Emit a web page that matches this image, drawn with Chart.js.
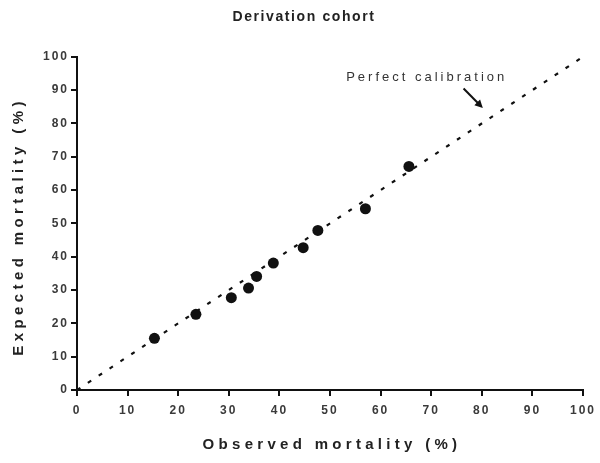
<!DOCTYPE html>
<html>
<head>
<meta charset="utf-8">
<script src="https://cdn.jsdelivr.net/npm/chart.js@4"></script>
<style>
  html, body { margin: 0; padding: 0; background: #fff; }
  #wrap { width: 600px; height: 463px; }
</style>
</head>
<body>
<div id="wrap"><canvas id="calibrationChart" width="600" height="463"></canvas></div>
<script>
const chartTitle = 'Derivation cohort';
const xTitle = 'Observed mortality (%)';
const yTitle = 'Expected mortality (%)';
const noteText = 'Perfect calibration';

// risk groups: observed vs expected mortality (%)
const observed = [15.3, 23.5, 30.5, 33.9, 35.5, 38.8, 44.7, 47.6, 57.0, 65.6];
const expected = [15.5, 22.7, 27.7, 30.6, 34.1, 38.1, 42.7, 47.9, 54.4, 67.1];
// line of perfect calibration
const identityX = [0, 100];
const identityY = [0, 100];
const tickValues = [0, 10, 20, 30, 40, 50, 60, 70, 80, 90, 100];

const FONT = '"Liberation Sans", Arial, sans-serif';

// canvas has letterSpacing, Chart.js doesn't expose it, so wrap the text draws
function spaced(fn, spacing, dx, dy) {
    return function() {
        const ctx = this.ctx;
        ctx.save();
        ctx.letterSpacing = spacing;
        ctx.translate(dx, dy);
        fn.apply(this, arguments);
        ctx.restore();
    };
}

const letterSpacing = {
    id: 'letterSpacing',
    beforeDraw(chart) {
        if (!chart._spaced) {
            chart.scales.x.drawTitle = spaced(chart.scales.x.drawTitle, '4.3px', 2, 0);
            chart.scales.y.drawTitle = spaced(chart.scales.y.drawTitle, '4.4px', 0, 3);
            chart.titleBlock.draw = spaced(chart.titleBlock.draw, '1.6px', 12, 0);
            chart._spaced = true;
        }
        chart.ctx.letterSpacing = '2px'; // tick labels
    },
    afterDraw(chart) {
        chart.ctx.letterSpacing = '0px';
    }
};

const annotation = {
    id: 'annotation',
    afterDatasetsDraw(chart) {
        const {ctx, scales: {x, y}} = chart;
        ctx.save();
        ctx.font = '13px ' + FONT;
        ctx.letterSpacing = '3px';
        ctx.fillStyle = '#333';
        ctx.textAlign = 'left';
        ctx.textBaseline = 'middle';
        ctx.fillText(noteText, x.getPixelForValue(53.2), y.getPixelForValue(93.8));

        // arrow pointing at the dashed line
        const x0 = x.getPixelForValue(76.4), y0 = y.getPixelForValue(90.5);
        const x1 = x.getPixelForValue(80.2), y1 = y.getPixelForValue(84.6);
        const ang = Math.atan2(y1 - y0, x1 - x0);
        ctx.strokeStyle = '#111';
        ctx.fillStyle = '#111';
        ctx.lineWidth = 2;
        ctx.beginPath();
        ctx.moveTo(x0, y0);
        ctx.lineTo(x1 - 6 * Math.cos(ang), y1 - 6 * Math.sin(ang));
        ctx.stroke();
        ctx.beginPath();
        ctx.moveTo(x1, y1);
        ctx.lineTo(x1 - 8 * Math.cos(ang) + 4 * Math.sin(ang), y1 - 8 * Math.sin(ang) - 4 * Math.cos(ang));
        ctx.lineTo(x1 - 8 * Math.cos(ang) - 4 * Math.sin(ang), y1 - 8 * Math.sin(ang) + 4 * Math.cos(ang));
        ctx.closePath();
        ctx.fill();
        ctx.restore();
    }
};

function axis(titleText, titlePadding, labelPadding) {
    return {
        type: 'linear',
        min: 0,
        max: 100,
        afterBuildTicks: scale => {
            scale.ticks = tickValues.map(v => ({value: v}));
        },
        ticks: {
            color: '#3a3a3a',
            padding: labelPadding,
            font: {family: FONT, size: 12, weight: 'bold'}
        },
        grid: {
            drawOnChartArea: false,
            color: '#111',
            lineWidth: 2,
            tickLength: 6
        },
        border: {color: '#111', width: 2},
        title: {
            display: true,
            text: titleText,
            color: '#222',
            padding: titlePadding,
            font: {family: FONT, size: 15, weight: 'bold'}
        }
    };
}

const ctx = document.getElementById('calibrationChart').getContext('2d');
const calibrationChart = new Chart(ctx, {
    type: 'scatter',
    data: {
        datasets: [
            {
                label: 'Risk groups',
                data: observed.map((v, i) => ({x: v, y: expected[i]})),
                backgroundColor: '#111',
                borderWidth: 0,
                pointRadius: 5.5,
                order: 1
            },
            {
                type: 'line',
                label: 'Perfect calibration',
                data: identityX.map((v, i) => ({x: v, y: identityY[i]})),
                borderColor: '#111',
                borderWidth: 2.2,
                borderDash: [4, 9],
                pointRadius: 0,
                fill: false,
                order: 2
            }
        ]
    },
    options: {
        responsive: false,
        animation: false,
        devicePixelRatio: 1,
        layout: {padding: {left: 0, right: 16, top: 0, bottom: 0}},
        plugins: {
            legend: {display: false},
            tooltip: {enabled: false},
            title: {
                display: true,
                text: chartTitle,
                color: '#222',
                padding: {top: 9, bottom: 31},
                font: {family: FONT, size: 14, weight: 'bold'}
            }
        },
        scales: {
            x: Object.assign(axis(xTitle, {top: 0, bottom: 9}, 7), {
                afterFit: scale => { scale.height = 73; }
            }),
            y: Object.assign(axis(yTitle, {top: 10, bottom: 0}, 2), {
                afterFit: scale => { scale.width = 77; }
            })
        }
    },
    plugins: [letterSpacing, annotation]
});
</script>
</body>
</html>
